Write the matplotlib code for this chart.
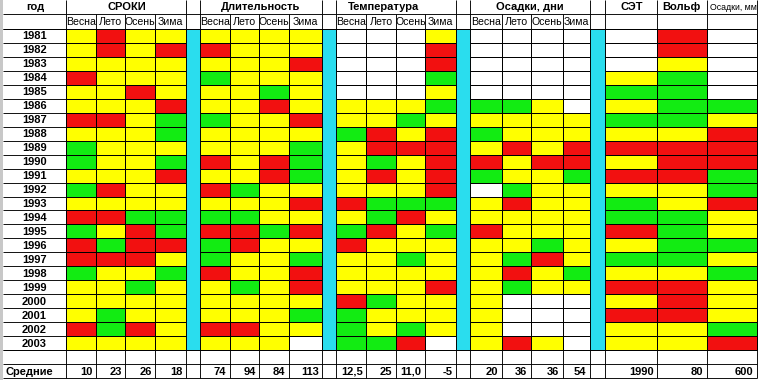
import matplotlib.pyplot as plt
import numpy as np
from matplotlib.colors import ListedColormap
from matplotlib.patches import Rectangle

plt.rcParams['font.family'] = ['Liberation Sans', 'DejaVu Sans']

# ---- data: W = empty, Y = yellow, R = red, G = green ----
years = [str(y) for y in range(1981, 2004)]
seasons = ['Весна', 'Лето', 'Осень', 'Зима']

sroki = ["YRYY", "YRYR", "YYYY", "RYYY", "YYRY", "YYYR", "RRYG", "YYYG",
         "GYYY", "GYYG", "YYYR", "GRYY", "YYYY", "RRGG", "GYRG", "RGRR",
         "RRRY", "GYYG", "YYGY", "YYYY", "YGYY", "RGRY", "YYYY"]
dlitelnost = ["YYYY", "RYYY", "YYYR", "GYYY", "YYGY", "YYRY", "GYYR", "YYYY",
              "YYYG", "RYRG", "YYRG", "RGYY", "YYYR", "GGYY", "RRGR", "GRYY",
              "GYYG", "RYYR", "YGYR", "YYYY", "YYYG", "RRYY", "YYYW"]
temperatura = ["WWWY", "WWWR", "WWWR", "WWWG", "WWWY", "YYYG", "YYGY", "GRYR",
               "YRRR", "YGYR", "YRYR", "YYYR", "RGGG", "YGRY", "GRYG", "RYYY",
               "YYGY", "YYYY", "YYYR", "RGYY", "GYYY", "GYGY", "GGRW"]
osadki_dni = ["WWWW", "WWWW", "WWWW", "WWWW", "WWWW", "GGYW", "YYYY", "GYYY",
              "YRYR", "RYRR", "GYYG", "WGYY", "YRYY", "YYYY", "RYYY", "YYGY",
              "YGRY", "YRYG", "YGYY", "YWWW", "YWWW", "YWWW", "YRYW"]
set_volf_mm = ["WRW", "WRW", "WYW", "YGW", "GGW", "YGG", "GGY", "YYR",
               "RRR", "YRR", "RRG", "YYG", "GYR", "GGY", "RGY", "YGG",
               "GGY", "YYG", "RRY", "YRY", "RRY", "YYG", "YYR"]

group_titles = ['СРОКИ', 'Длительность', 'Температура', 'Осадки, дни', 'СЭТ', 'Вольф']
avg_sroki = ['10', '23', '26', '18']
avg_dlit = ['74', '94', '84', '113']
avg_temp = ['12,5', '25', '11,0', '-5']
avg_osadki = ['20', '36', '36', '54']
avg_last = ['1990', '80', '600']

# ---- layout (pixels) ----
group_edges = [[66, 96, 125, 155, 186],
               [200, 230, 259, 289, 322],
               [336, 366, 396, 425, 456],
               [470, 502, 531, 563, 590],
               [605, 657, 707, 757]]
separators = [(186, 200), (322, 336), (456, 470), (590, 605)]
title_x = [127, 261, 383, 530, 632, 681]
row_h = 13.96
row_edges = 29 + row_h * np.arange(len(years) + 1)
y_blank = row_edges[-1]
y_avg = y_blank + 14
y_end = y_avg + 14

code = {'W': 0, 'Y': 1, 'R': 2, 'G': 3}
cmap = ListedColormap(['white', '#FFFF00', '#F21010', '#12EC12'])
cyan = '#2ADDEE'
lw = 0.65

fig = plt.figure(figsize=(7.6, 3.8), dpi=100)
ax = fig.add_axes([0, 0, 1, 1])
ax.set_xlim(0, 760)
ax.set_ylim(380, 0)
ax.axis('off')

# left grey strip (sheet edge)
ax.add_patch(Rectangle((0, 0), 3, 380, fc='#c8c8c8', ec='none'))

all_groups = [sroki, dlitelnost, temperatura, osadki_dni, set_volf_mm]
for edges, rows in zip(group_edges, all_groups):
    Z = np.array([[code[c] for c in r] for r in rows])
    ax.pcolormesh(edges, row_edges, Z, cmap=cmap, vmin=-0.5, vmax=3.5,
                  edgecolors='black', linewidth=lw)

for a, b in separators:
    ax.add_patch(Rectangle((a, row_edges[0]), b - a, row_edges[-1] - row_edges[0],
                           fc=cyan, ec='black', lw=lw))

all_x = sorted(set([x for e in group_edges for x in e] + [x for s in separators for x in s]))
top_x = [66, 186, 200, 322, 336, 456, 470, 590, 605, 657, 707, 757]
ax.vlines(top_x, 0, 14, color='black', lw=lw)
ax.vlines(all_x, 14, 29, color='black', lw=lw)
ax.vlines(all_x, y_blank, y_end, color='black', lw=lw)
ax.hlines([14, 29, y_blank, y_avg, y_end], 3, 757, color='black', lw=lw)
ax.hlines(row_edges, 3, 66, color='black', lw=lw)

bold = dict(fontweight='bold', fontsize=8, color='black')

ax.text(35, 7.5, 'год', ha='center', va='center', **bold)
for t, x in zip(group_titles, title_x):
    ax.text(x, 7.5, t, ha='center', va='center', **bold)
t = ax.text(710, 7.5, 'Осадки, мм', ha='left', va='center', fontsize=6.3)
t.set_clip_path(Rectangle((707, 0), 50, 14, transform=ax.transData))

for edges in group_edges[:4]:
    for i, s in enumerate(seasons):
        x0, x1 = edges[i], edges[i + 1]
        t = ax.text((x0 + x1) / 2, 22, s, ha='center', va='center', fontsize=7.6)
        t.set_clip_path(Rectangle((x0, 14), x1 - x0, 15, transform=ax.transData))

for i, y in enumerate(years):
    ax.text(34.5, (row_edges[i] + row_edges[i + 1]) / 2 + 0.5, y,
            ha='center', va='center', **bold)

ya = (y_avg + y_end) / 2 + 0.5
ax.text(5, ya, 'Средние', ha='left', va='center', **bold)
for edges, vals in zip(group_edges, [avg_sroki, avg_dlit, avg_temp, avg_osadki, avg_last]):
    for i, v in enumerate(vals):
        ax.text(edges[i + 1] - 3.5, ya, v, ha='right', va='center', **bold)

fig.savefig('out.png', dpi=100)
